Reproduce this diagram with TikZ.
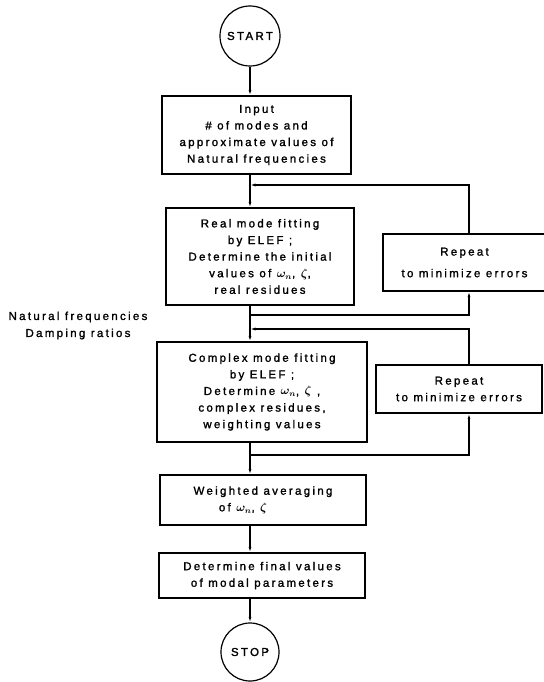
\documentclass[tikz,border=0pt]{standalone}
\usepackage{amsmath}
\usepackage{fontspec}
\setmainfont{Liberation Sans}[LetterSpace=20,FakeBold=1.5]
\usetikzlibrary{arrows.meta}

\tikzset{
  procbox/.style={draw, line width=1.2pt, rectangle, align=center, inner sep=0pt,
    font=\fontsize{11.5}{16.6}\selectfont},
  termcircle/.style={draw, line width=1.2pt, circle, inner sep=0pt,
    font=\fontsize{11.5}{16.6}\selectfont},
  flow/.style={line width=1.2pt, -{Latex[length=5.5pt,width=3pt]}}
}

\begin{document}
\begin{tikzpicture}[x=1pt,y=-1pt]
\useasboundingbox (0,0) rectangle (543,682);
\node[termcircle, minimum size=60pt] (start) at (250,36) {START};
\node[procbox, minimum width=189pt, minimum height=78pt] (input) at (256.5,135)
{Input\\\# of modes and\\approximate values of\\Natural frequencies};
\draw [flow] (start) -- (start |- input.north);
%%%%%%%%%%%%%%%%
\node[procbox, minimum width=188pt, minimum height=97pt] (real) at (260,256.5)
{Real mode fitting\\by ELEF ;\\Determine the initial\\values of $\boldsymbol{\omega_n}$, $\boldsymbol{\zeta}$,\hspace*{18pt}\\real residues};
\draw [flow] (input.south -| start) -- (real.north -| start);
\node[procbox, minimum width=163pt, minimum height=57pt] (rep1) at (464.5,262.5)
{Repeat\\[5pt]to minimize errors};
\coordinate (back1) at (469,185);
\coordinate (out1) at (469,315);
\draw [flow] (out1 -| start) -- (out1) -- (rep1.south -| out1);
\draw [flow] (rep1.north -| back1) -- (back1) -- (back1 -| start);
%%%%%%%%%%%%%%%%
\node[align=center, font=\fontsize{11.5}{17}\selectfont] (modal) at (78,325.5)
{Natural frequencies\\Damping ratios};
%%%%%%%%%%%%%%%%
\node[procbox, minimum width=210pt, minimum height=100pt] (complex) at (262,392)
{Complex mode fitting\\by ELEF ;\\Determine $\boldsymbol{\omega_n}$, $\boldsymbol{\zeta}$ ,\\complex residues,\\weighting values};
\draw [flow] (real.south -| start) -- (complex.north -| start);
\node[procbox, minimum width=166pt, minimum height=48pt] (rep2) at (459,389)
{Repeat\\to minimize errors};
\coordinate (back2) at (469,329);
\coordinate (out2) at (469,455);
\draw [flow] (out2 -| start) -- (out2) -- (rep2.south -| out2);
\draw [flow] (rep2.north -| back2) -- (back2) -- (back2 -| start);
%%%%%%%%%%%%%%%%
\node[procbox, minimum width=206pt, minimum height=50pt] (weighted) at (263,500)
{Weighted averaging\\of $\boldsymbol{\omega_n}$, $\boldsymbol{\zeta}$\hspace*{40pt}};
\draw [flow] (complex.south -| start) -- (weighted.north -| start);
%%%%%%%%%%%%%%%%
\node[procbox, minimum width=206pt, minimum height=45pt] (final) at (262,575.5)
{Determine final values\\of modal parameters};
\draw [flow] (weighted.south -| start) -- (final.north -| start);
%%%%%%%%%%%%%%%%
\node[termcircle, minimum size=58pt] (stop) at (250,652) {STOP};
\draw [flow] (final.south -| start) -- (stop);
\end{tikzpicture}
\end{document}
